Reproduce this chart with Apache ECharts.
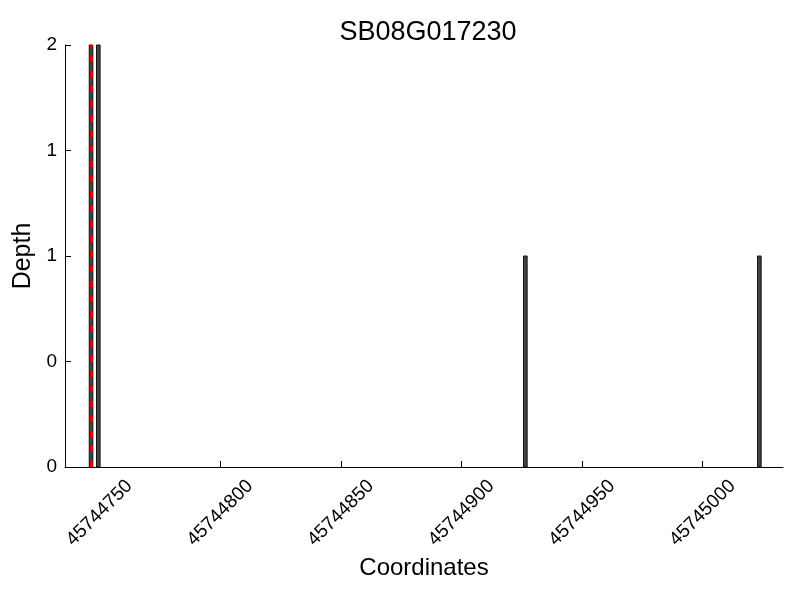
<!DOCTYPE html>
<html>
<head>
<meta charset="utf-8">
<script src="https://cdn.jsdelivr.net/npm/echarts@6/dist/echarts.min.js"></script>
<style>html,body{margin:0;padding:0;background:#fff}#c{width:800px;height:600px}</style>
</head>
<body>
<div id="c"></div>
<script>
const positions = [45744746, 45744749, 45744926, 45745023];
const depths = [2, 2, 1, 1];
const markerPositions = [45744746];
const xTicks = [45744750, 45744800, 45744850, 45744900, 45744950, 45745000];
const yTicks = [0, 0.5, 1, 1.5, 2];
const xMin = 45744735.7, xMax = 45745033.3;

const chart = echarts.init(document.getElementById('c'), null, {renderer: 'canvas'});
const font = 'Liberation Sans, Arial, sans-serif';
chart.setOption({
  animation: false,
  backgroundColor: '#fff',
  title: {text: 'SB08G017230', left: 423, textAlign: 'center', top: 14,
    textStyle: {fontFamily: font, fontWeight: 'normal', fontSize: 27, color: '#000'}},
  grid: {left: 65, right: 17, top: 45, bottom: 133},
  xAxis: {
    type: 'value', min: xMin, max: xMax,
    name: 'Coordinates', nameLocation: 'middle', nameGap: 87,
    nameTextStyle: {fontFamily: font, fontSize: 24, color: '#000'},
    axisLine: {show: true, onZero: false, lineStyle: {color: '#000', width: 1}},
    axisTick: {show: true, inside: true, length: 6, customValues: xTicks, lineStyle: {color: '#000'}},
    axisLabel: {customValues: xTicks, rotate: 45, align: 'center', verticalAlign: 'middle',
      fontFamily: font, fontSize: 19, color: '#000', margin: 46,
      formatter: v => String(Math.round(v))},
    splitLine: {show: false}
  },
  yAxis: {
    type: 'value', min: 0, max: 2, interval: 0.5,
    name: 'Depth', nameLocation: 'middle', nameGap: 26,
    nameTextStyle: {fontFamily: font, fontSize: 25, color: '#000'},
    axisLine: {show: true, lineStyle: {color: '#000', width: 1}},
    axisTick: {show: true, inside: true, length: 6, lineStyle: {color: '#000'}},
    axisLabel: {fontFamily: font, fontSize: 19, color: '#000', margin: 8,
      formatter: v => String(Math.floor(v))},
    splitLine: {show: false}
  },
  series: [{
    type: 'custom',
    data: positions.map((p, i) => [p, depths[i]]),
    renderItem: (params, api) => {
      const x = api.value(0), h = api.value(1);
      const p0 = api.coord([x, 0]);
      const p1 = api.coord([x + 1, h]);
      const cx = (p0[0] + p1[0]) / 2;
      return {
        type: 'rect',
        shape: {x: cx - 1.8, y: p1[1], width: 3.6, height: p0[1] - p1[1]},
        style: {fill: '#444', stroke: '#111', lineWidth: 1}
      };
    },
    markLine: {
      silent: true, symbol: 'none', label: {show: false},
      lineStyle: {color: '#e00000', type: [6, 9], width: 3},
      data: markerPositions.map(p => ({xAxis: p + 0.5}))
    }
  }]
});
</script>
</body>
</html>
